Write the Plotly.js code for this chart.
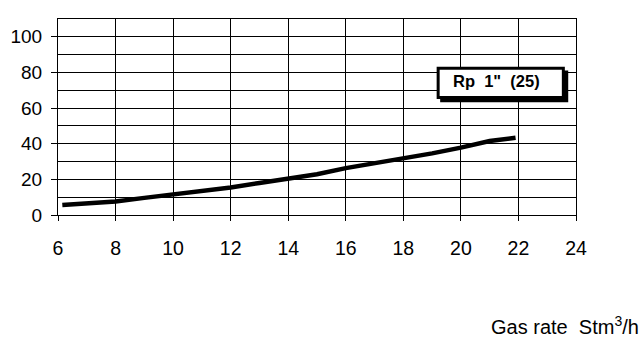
<!DOCTYPE html>
<html>
<head>
<meta charset="utf-8">
<script src="https://cdn.plot.ly/plotly-3.0.1.min.js"></script>
<style>html,body{margin:0;padding:0;background:#fff;}#chart{width:644px;height:343px;}</style>
</head>
<body>
<div id="chart"></div>
<script>
// Data
const gasRate = [6.15, 7, 8, 9, 10, 11, 12, 13, 14, 15, 16, 17, 18, 19, 20, 21, 21.9];
const pressureDrop = [5.6, 6.5, 7.6, 9.6, 11.5, 13.4, 15.4, 18.0, 20.4, 22.9, 26.3, 29.0, 31.5, 34.6, 37.8, 41.5, 43.4];
const seriesLabel = 'Rp&nbsp; 1"&nbsp; (25)';
const xTitle = 'Gas rate&nbsp; Stm<sup>3</sup>/h';

const font = 'Liberation Sans, Arial, sans-serif';

const trace = {
  x: gasRate,
  y: pressureDrop,
  type: 'scatter',
  mode: 'lines',
  line: {color: '#000', width: 4.5},
  showlegend: false,
  hoverinfo: 'skip'
};

const layout = {
  width: 644,
  height: 343,
  margin: {l: 58, r: 68, t: 19, b: 128, pad: 0},
  paper_bgcolor: '#fff',
  plot_bgcolor: '#fff',
  font: {family: font, color: '#000', size: 19},
  xaxis: {
    range: [6, 24], tick0: 6, dtick: 2,
    showgrid: true, gridcolor: '#000', gridwidth: 1,
    showline: true, linecolor: '#000', linewidth: 1, mirror: true,
    ticks: 'outside', ticklen: 5, tickcolor: '#000', tickwidth: 1,
    tickfont: {family: font, size: 19.5, color: '#000'},
    ticklabelstandoff: 11,
    zeroline: false, fixedrange: true
  },
  yaxis: {
    range: [0, 110], tick0: 0, dtick: 20,
    showgrid: true, gridcolor: '#000', gridwidth: 1,
    minor: {dtick: 10, showgrid: true, gridcolor: '#000', gridwidth: 1},
    showline: true, linecolor: '#000', linewidth: 1, mirror: true,
    ticks: 'outside', ticklen: 6, tickcolor: '#000', tickwidth: 1,
    tickfont: {family: font, size: 19, color: '#000'},
    ticklabelstandoff: 5,
    zeroline: false, fixedrange: true
  },
  shapes: [
    {type: 'rect', xref: 'x', yref: 'y', x0: 19.28, x1: 23.73, y0: 63.3, y1: 81.1,
     fillcolor: '#000', line: {width: 0}, layer: 'above'},
    {type: 'rect', xref: 'x', yref: 'y', x0: 19.21, x1: 23.56, y0: 66.0, y1: 82.3,
     fillcolor: '#fff', line: {color: '#000', width: 3}, layer: 'above'}
  ],
  annotations: [
    {text: '<b>' + seriesLabel + '</b>', xref: 'x', yref: 'y', x: 21.25, y: 75.4,
     xanchor: 'center', yanchor: 'middle', showarrow: false,
     font: {family: font, size: 16.5, color: '#000'}},
    {text: xTitle, xref: 'paper', yref: 'paper', x: 1.126, y: -0.565,
     xanchor: 'right', yanchor: 'middle', showarrow: false,
     font: {family: font, size: 20, color: '#000'}}
  ]
};

Plotly.newPlot('chart', [trace], layout, {displayModeBar: false, staticPlot: true});
</script>
</body>
</html>
